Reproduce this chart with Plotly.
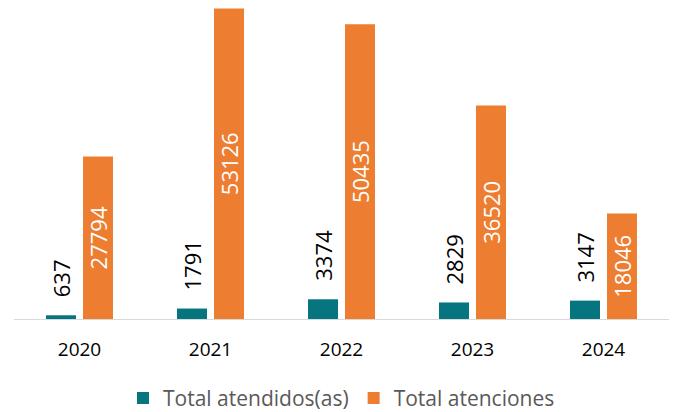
import plotly.graph_objects as go

years = ["2020", "2021", "2022", "2023", "2024"]
atendidos = [637, 1791, 3374, 2829, 3147]
atenciones = [27794, 53126, 50435, 36520, 18046]

TEAL = "#077580"
ORANGE = "#ED7D31"
FONT = "Open Sans"

fig = go.Figure()
fig.add_trace(go.Bar(
    x=years, y=atendidos, name="Total atendidos(as)",
    marker=dict(color=TEAL, line=dict(width=0)),
))
fig.add_trace(go.Bar(
    x=years, y=atenciones, name="Total atenciones",
    marker=dict(color=ORANGE, line=dict(width=0)),
    text=[str(v) for v in atenciones], textposition="inside",
    insidetextanchor="middle", textangle=-90, constraintext="none",
    textfont=dict(family=FONT, size=22, color="white"),
))

# labels above the teal bars (category index used for the category axis)
for i, v in enumerate(atendidos):
    fig.add_annotation(
        x=i, y=v, xref="x", yref="y", text=str(v), showarrow=False,
        textangle=-90, xshift=-18.5, yshift=16, yanchor="bottom",
        font=dict(family=FONT, size=22, color="#000000"),
    )

fig.update_layout(
    width=679, height=412,
    margin=dict(l=6, r=18, t=0, b=101),
    paper_bgcolor="white", plot_bgcolor="white",
    barmode="group", bargap=0.435, bargroupgap=0.19,
    font=dict(family=FONT, color="#000000"),
    showlegend=True,
    legend=dict(orientation="h", x=0.5, xanchor="center", y=-0.255, yanchor="middle",
                font=dict(family=FONT, size=21, color="#595959"),
                traceorder="normal"),
    xaxis=dict(type="category", range=[-0.5, len(years) - 0.5], showline=True,
               linecolor="#D9D9D9", linewidth=1, ticks="", ticklabelstandoff=13,
               tickfont=dict(family=FONT, size=19, color="#000000"), showgrid=False),
    yaxis=dict(range=[0, 53208], visible=False, showgrid=False),
)

fig.write_html("out.html")
